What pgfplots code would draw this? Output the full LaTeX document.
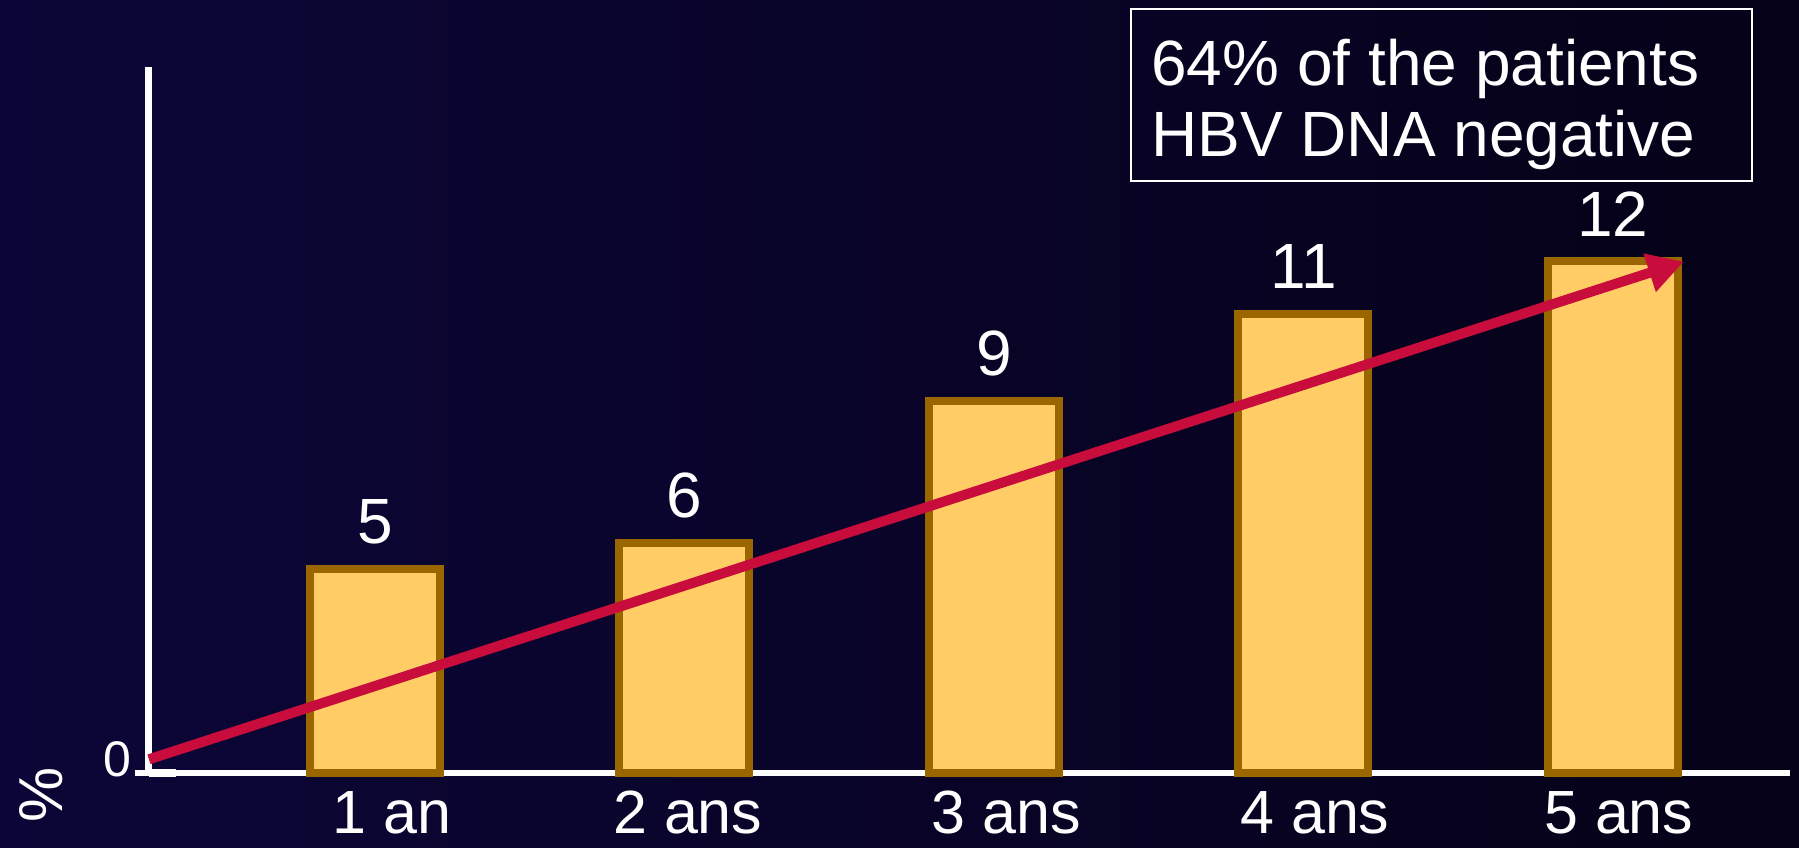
\documentclass[border=0pt]{standalone}
\usepackage{pgfplots}
\pgfplotsset{compat=1.18}
\usepackage{fontspec}
\setmainfont{Liberation Sans}
\usetikzlibrary{arrows.meta}

\definecolor{bgleft}{HTML}{0C0638}
\definecolor{bgright}{HTML}{060218}
\definecolor{barfill}{HTML}{FFCC66}
\definecolor{barline}{HTML}{996600}
\definecolor{arrowred}{HTML}{C80C3C}

\newcommand{\bigtxt}{\fontsize{32}{38}\selectfont}

\begin{document}
\begin{tikzpicture}
% background
\fill[left color=bgleft, right color=bgright] (-74.5pt,-37pt) rectangle (825pt,386.5pt);

\begin{axis}[
	at={(0,0)}, anchor=south west,
	scale only axis,
	width=820.5pt, height=353pt,
	xmin=0.27, xmax=5.572,
	ymin=0, ymax=17.01,
	clip=false,
	axis x line*=bottom, axis y line*=left,
	axis line style={white},
	x axis line style={line width=2.8pt, shorten <=-7pt},
	y axis line style={line width=3.5pt},
	xtick={1.056,2.011,3.04,4.037,5.019},
	xticklabels={1 an, 2 ans, 3 ans, 4 ans, 5 ans},
	x tick style={draw=none},
	xticklabel style={font=\fontsize{30.5}{36}\selectfont, text=white, inner sep=0pt, yshift=-9pt},
	ytick={0},
	tick align=inside,
	major tick length=13.5pt,
	y tick style={white, line width=4pt},
	yticklabel style={font=\fontsize{25}{30}\selectfont, text=white, yshift=6.75pt, xshift=-5.5pt},
	/pgf/number format/assume math mode=true,
	ylabel={\%},
	ylabel style={at={(axis description cs:-0.0658,-0.031)}, anchor=center, inner sep=0pt, font=\fontsize{31}{36}\selectfont, text=white},
	point meta=explicit symbolic,
]
% bar heights as drawn; labels as printed on the chart
\addplot[ybar, bar width=65pt, fill=barfill, draw=barline, line width=4pt,
	nodes near coords,
	nodes near coords style={font=\bigtxt, text=white, anchor=south, inner sep=0pt, yshift=10.3pt}]
	coordinates {(1,4.91) [5] (2,5.54) [6] (3,8.97) [9] (4,11.07) [11] (5,12.34) [12]};
\addplot[arrowred, line width=5pt, -{Triangle[length=18pt, width=19pt]}]
	coordinates {(0.27,0.33) (5.229,12.32)};
\end{axis}

% text box
\draw[white, line width=1pt] (491pt,296pt) rectangle (801.5pt,382pt);
\node[anchor=base west, inner sep=0pt, text=white, font=\bigtxt] at (501pt,343.5pt) {64\% of the patients};
\node[anchor=base west, inner sep=0pt, text=white, font=\bigtxt] at (501pt,308pt) {HBV DNA negative};

\pgfresetboundingbox
\path (-74.5pt,-37pt) rectangle (825pt,386.5pt);
\end{tikzpicture}
\end{document}
